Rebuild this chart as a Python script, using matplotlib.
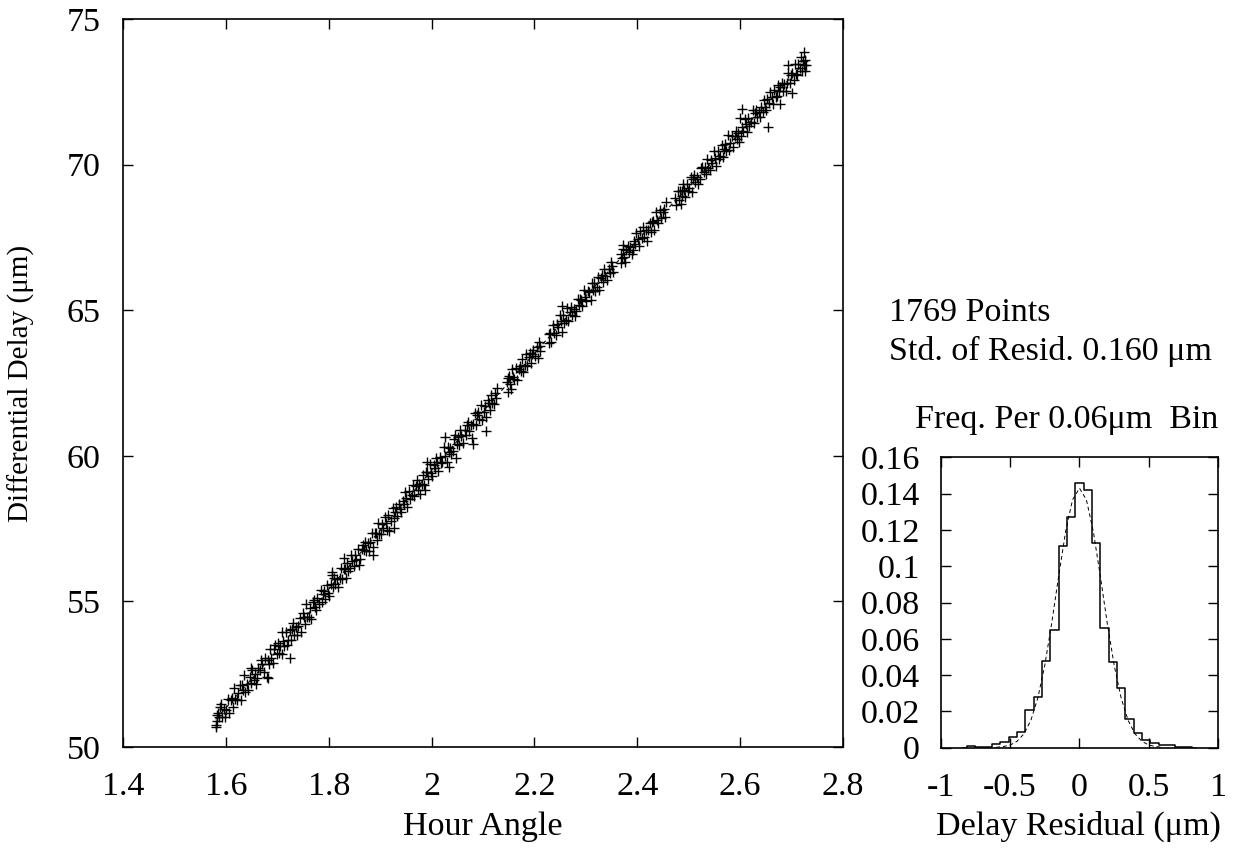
import matplotlib.pyplot as plt

hour_angle = [
    1.580, 1.581, 1.582, 1.583, 1.584, 1.586, 1.589,
    1.591, 1.593, 1.596, 1.598, 1.601, 1.604, 1.606, 1.609,
    1.611, 1.613, 1.616, 1.618, 1.621, 1.624, 1.627, 1.629,
    1.631, 1.634, 1.636, 1.638, 1.641, 1.643, 1.646, 1.649,
    1.651, 1.654, 1.656, 1.659, 1.661, 1.663, 1.666, 1.668,
    1.671, 1.674, 1.676, 1.679, 1.681, 1.683, 1.686, 1.688,
    1.691, 1.694, 1.696, 1.699, 1.701, 1.704, 1.706, 1.709,
    1.711, 1.713, 1.716, 1.718, 1.721, 1.724, 1.726, 1.729,
    1.731, 1.733, 1.736, 1.738, 1.741, 1.744, 1.746, 1.749,
    1.751, 1.753, 1.756, 1.758, 1.761, 1.764, 1.766, 1.769,
    1.771, 1.773, 1.776, 1.778, 1.781, 1.784, 1.786, 1.789,
    1.791, 1.793, 1.796, 1.798, 1.801, 1.804, 1.806, 1.809,
    1.811, 1.813, 1.816, 1.818, 1.821, 1.824, 1.826, 1.829,
    1.831, 1.833, 1.836, 1.838, 1.841, 1.844, 1.846, 1.849,
    1.851, 1.853, 1.856, 1.858, 1.861, 1.864, 1.866, 1.869,
    1.871, 1.873, 1.876, 1.878, 1.881, 1.884, 1.886, 1.889,
    1.891, 1.893, 1.896, 1.898, 1.901, 1.904, 1.906, 1.909,
    1.911, 1.913, 1.916, 1.918, 1.921, 1.924, 1.926, 1.929,
    1.931, 1.933, 1.936, 1.938, 1.941, 1.944, 1.946, 1.949,
    1.951, 1.953, 1.956, 1.958, 1.961, 1.964, 1.966, 1.969,
    1.971, 1.973, 1.976, 1.978, 1.981, 1.984, 1.986, 1.989,
    1.991, 1.993, 1.996, 1.998, 2.001, 2.004, 2.006, 2.009,
    2.011, 2.013, 2.016, 2.018, 2.021, 2.024, 2.026, 2.029,
    2.031, 2.033, 2.036, 2.038, 2.041, 2.044, 2.046, 2.049,
    2.051, 2.053, 2.056, 2.058, 2.061, 2.064, 2.066, 2.069,
    2.071, 2.073, 2.076, 2.078, 2.081, 2.084, 2.086, 2.089,
    2.091, 2.093, 2.096, 2.098, 2.101, 2.104, 2.106, 2.109,
    2.111, 2.113, 2.116, 2.118, 2.121, 2.123, 2.126, 2.128,
    2.146, 2.148, 2.149, 2.151, 2.153, 2.154, 2.156, 2.158,
    2.161, 2.164, 2.166, 2.169, 2.171, 2.173, 2.176, 2.178,
    2.181, 2.184, 2.186, 2.189, 2.191, 2.193, 2.196, 2.198,
    2.201, 2.204, 2.206, 2.209, 2.210, 2.211, 2.228, 2.229,
    2.231, 2.233, 2.236, 2.238, 2.241, 2.244, 2.246, 2.249,
    2.251, 2.253, 2.256, 2.258, 2.261, 2.264, 2.266, 2.269,
    2.271, 2.273, 2.276, 2.278, 2.281, 2.284, 2.286, 2.289,
    2.291, 2.293, 2.296, 2.298, 2.301, 2.304, 2.306, 2.309,
    2.311, 2.313, 2.316, 2.318, 2.321, 2.324, 2.326, 2.329,
    2.331, 2.333, 2.336, 2.338, 2.341, 2.344, 2.346, 2.349,
    2.351, 2.353, 2.368, 2.369, 2.371, 2.372, 2.373, 2.375,
    2.376, 2.378, 2.381, 2.384, 2.386, 2.389, 2.391, 2.393,
    2.396, 2.398, 2.401, 2.404, 2.406, 2.409, 2.411, 2.413,
    2.416, 2.418, 2.421, 2.424, 2.426, 2.429, 2.431, 2.433,
    2.436, 2.438, 2.441, 2.444, 2.446, 2.449, 2.451, 2.454,
    2.456, 2.473, 2.476, 2.479, 2.481, 2.483, 2.484, 2.486,
    2.487, 2.488, 2.491, 2.493, 2.496, 2.498, 2.501, 2.504,
    2.506, 2.509, 2.511, 2.513, 2.516, 2.518, 2.521, 2.524,
    2.526, 2.529, 2.531, 2.533, 2.536, 2.538, 2.541, 2.544,
    2.546, 2.549, 2.551, 2.553, 2.556, 2.558, 2.561, 2.564,
    2.566, 2.569, 2.571, 2.573, 2.576, 2.578, 2.581, 2.584,
    2.586, 2.589, 2.591, 2.593, 2.596, 2.598, 2.601, 2.604,
    2.606, 2.609, 2.611, 2.613, 2.616, 2.618, 2.621, 2.624,
    2.626, 2.629, 2.631, 2.633, 2.636, 2.638, 2.641, 2.644,
    2.646, 2.649, 2.651, 2.653, 2.656, 2.658, 2.661, 2.664,
    2.666, 2.669, 2.671, 2.673, 2.676, 2.678, 2.681, 2.684,
    2.686, 2.689, 2.691, 2.693, 2.696, 2.698, 2.701, 2.704,
    2.706, 2.709, 2.711, 2.713, 2.716, 2.718, 2.721, 2.723,
    2.724, 2.725, 2.726, 2.727, 2.728,
    2.603, 2.600, 2.655, 2.677, 2.701, 2.693, 2.253, 2.105,
    2.026, 2.048, 2.034, 1.992, 2.081, 1.724, 1.926, 1.887,
    1.987, 1.709, 1.681, 1.649, 1.829, 1.807,
]
delay = [
    50.70, 50.77, 51.09, 50.89, 51.18, 51.02, 51.38,
    51.47, 51.03, 51.32, 51.03, 51.27, 51.65, 51.17, 51.61,
    51.68, 51.38, 52.01, 51.65, 51.61, 51.87, 52.13, 51.60,
    52.14, 51.94, 52.46, 51.90, 52.18, 51.94, 52.41, 52.20,
    52.63, 52.31, 52.51, 52.16, 52.37, 52.71, 52.63, 52.99,
    52.85, 52.59, 53.05, 52.41, 53.00, 52.84, 53.37, 53.04,
    52.89, 53.35, 53.49, 53.20, 53.56, 53.22, 53.46, 53.21,
    53.65, 53.47, 53.94, 53.50, 53.68, 54.02, 53.67, 54.05,
    54.27, 53.86, 54.13, 53.84, 54.16, 54.42, 53.94, 54.60,
    54.47, 54.23, 54.92, 54.48, 54.45, 54.76, 54.41, 54.97,
    55.06, 54.80, 54.70, 55.11, 54.92, 55.38, 54.97, 55.24,
    55.35, 55.09, 55.56, 55.30, 55.19, 55.58, 55.89, 55.48,
    55.82, 55.58, 55.76, 55.48, 55.79, 56.15, 55.76, 56.10,
    56.10, 55.81, 56.33, 56.04, 56.13, 56.61, 56.37, 56.21,
    56.60, 56.41, 56.80, 56.24, 56.47, 56.81, 56.95, 56.76,
    57.05, 56.74, 57.00, 56.74, 57.04, 57.34, 56.86, 57.34,
    57.34, 57.10, 57.68, 57.30, 57.31, 57.67, 57.51, 57.90,
    57.69, 57.46, 57.95, 57.41, 57.77, 58.21, 57.85, 58.08,
    58.23, 57.92, 58.33, 58.17, 58.06, 58.46, 58.36, 58.75,
    58.54, 58.23, 58.79, 58.53, 58.65, 58.98, 58.62, 58.97,
    59.18, 58.84, 59.02, 58.69, 59.03, 59.35, 59.00, 59.45,
    59.43, 59.20, 59.71, 59.40, 59.32, 59.68, 59.57, 59.93,
    59.77, 59.48, 59.97, 59.76, 59.80, 60.30, 60.00, 59.78,
    60.31, 60.12, 60.28, 60.05, 60.18, 60.59, 60.73, 60.41,
    60.63, 60.37, 60.88, 60.67, 60.43, 60.87, 60.73, 61.07,
    61.15, 60.84, 61.05, 60.62, 61.09, 61.48, 61.06, 61.40,
    61.49, 61.28, 61.74, 61.23, 61.52, 61.72, 61.32, 61.90,
    61.82, 61.58, 62.09, 61.80, 61.79, 62.16, 61.99, 62.33,
    62.54, 62.20, 62.68, 62.74, 62.48, 62.30, 62.99, 62.70,
    62.62, 63.02, 62.59, 62.98, 63.09, 62.90, 63.32, 62.88,
    63.12, 63.50, 63.09, 63.40, 63.54, 63.20, 63.49, 63.63,
    63.44, 63.75, 63.36, 63.92, 63.77, 63.59, 64.17, 63.89,
    64.21, 63.92, 64.48, 64.22, 64.15, 64.54, 64.41, 64.84,
    64.62, 64.26, 64.82, 64.56, 64.67, 65.06, 64.62, 64.93,
    65.10, 64.84, 65.04, 64.81, 64.97, 65.40, 65.17, 65.40,
    65.36, 65.13, 65.71, 65.45, 65.31, 65.67, 65.63, 65.36,
    65.95, 65.69, 65.94, 65.65, 65.79, 66.15, 65.70, 66.12,
    66.20, 65.97, 66.40, 66.19, 66.05, 66.41, 66.27, 66.67,
    66.52, 66.31, 66.94, 66.63, 66.80, 67.25, 67.11, 66.81,
    66.64, 67.08, 67.22, 66.99, 67.18, 66.94, 67.08, 67.39,
    67.27, 67.64, 67.44, 67.19, 67.71, 67.49, 67.85, 67.52,
    67.74, 67.38, 67.74, 68.00, 67.68, 68.04, 68.05, 67.76,
    68.36, 68.08, 68.01, 68.43, 68.17, 68.36, 68.46, 68.19,
    68.73, 68.85, 68.62, 69.11, 68.79, 69.11, 68.64, 68.93,
    69.08, 69.34, 69.13, 68.90, 69.32, 69.09, 69.21, 69.56,
    69.05, 69.51, 69.63, 69.39, 69.56, 69.33, 69.51, 69.88,
    69.93, 69.73, 69.92, 69.66, 70.19, 69.87, 69.82, 70.17,
    70.07, 70.45, 70.24, 69.95, 70.46, 70.20, 70.30, 70.68,
    70.27, 70.55, 70.71, 70.48, 71.00, 70.50, 70.73, 70.98,
    70.59, 70.98, 71.15, 70.89, 71.07, 70.76, 70.97, 71.28,
    71.16, 71.55, 71.39, 71.13, 71.60, 71.34, 71.45, 71.86,
    71.42, 71.77, 71.88, 71.64, 71.82, 71.64, 71.99, 71.80,
    72.23, 71.99, 71.88, 72.24, 72.10, 72.49, 72.32, 72.08,
    72.55, 72.32, 72.34, 72.72, 72.54, 72.67, 72.81, 72.54,
    72.78, 72.51, 72.80, 73.14, 72.80, 73.08, 73.16, 72.90,
    73.44, 73.11, 73.08, 73.45, 73.31, 73.69, 73.23, 73.57,
    73.41, 73.86, 73.23, 73.60, 73.41,
    71.91, 71.59, 71.30, 72.08, 72.45, 73.42, 65.14, 60.85,
    60.66, 59.91, 59.61, 59.80, 60.39, 53.05, 57.51, 56.59,
    58.83, 53.96, 52.36, 52.70, 56.48, 56.02,
]

# fitted delay model (dashed line)
hour_fit = [1.58, 1.70, 1.80, 1.90, 2.00, 2.10, 2.20, 2.30, 2.40, 2.50, 2.60, 2.70, 2.73]
delay_fit = [50.95, 53.32, 55.42, 57.44, 59.50, 61.52, 63.52, 65.49, 67.40, 69.24, 71.10, 73.02, 73.60]

# residual histogram, frequency per 0.06 um bin
bin_center = [-0.84, -0.78, -0.72, -0.66, -0.60, -0.54, -0.48, -0.42, -0.36, -0.30,
              -0.24, -0.18, -0.12, -0.06, 0.00, 0.06, 0.12, 0.18, 0.24, 0.30,
              0.36, 0.42, 0.48, 0.54, 0.60, 0.66, 0.72, 0.78, 0.84]
freq = [0.0, 0.0011, 0.0005, 0.0005, 0.0018, 0.003, 0.006, 0.0086, 0.021, 0.028,
        0.0476, 0.065, 0.111, 0.127, 0.1457, 0.142, 0.1126, 0.066, 0.0474, 0.033,
        0.0158, 0.0079, 0.004, 0.0024, 0.0015, 0.0015, 0.0005, 0.0005, 0.0]

# gaussian curve (dashed)
gauss_x = [-0.60, -0.55, -0.50, -0.45, -0.40, -0.35, -0.30, -0.25, -0.20, -0.15, -0.10, -0.05, 0.00,
           0.05, 0.10, 0.15, 0.20, 0.25, 0.30, 0.35, 0.40, 0.45, 0.50, 0.55, 0.60]
gauss_y = [0.0002, 0.0006, 0.0014, 0.0035, 0.0076, 0.0151, 0.0274, 0.0454, 0.0686, 0.0946, 0.119, 0.1366, 0.143,
           0.1366, 0.119, 0.0946, 0.0686, 0.0454, 0.0274, 0.0151, 0.0076, 0.0035, 0.0014, 0.0006, 0.0002]

x_ticks = [1.4, 1.6, 1.8, 2.0, 2.2, 2.4, 2.6, 2.8]
x_ticklabels = ['1.4', '1.6', '1.8', '2', '2.2', '2.4', '2.6', '2.8']
y_ticks = [50, 55, 60, 65, 70, 75]
h_xticks = [-1, -0.5, 0, 0.5, 1]
h_xticklabels = ['-1', '-0.5', '0', '0.5', '1']
h_yticks = [0, 0.02, 0.04, 0.06, 0.08, 0.1, 0.12, 0.14, 0.16]
h_yticklabels = ['0', '0.02', '0.04', '0.06', '0.08', '0.1', '0.12', '0.14', '0.16']

plt.rcParams['font.family'] = ['Liberation Serif', 'DejaVu Serif']
plt.rcParams['font.size'] = 24.5

fig = plt.figure(figsize=(12.39, 8.59), dpi=100)

# main panel
ax = fig.add_axes([0.0993, 0.1304, 0.5811, 0.8475])
ax.plot(hour_angle, delay, '+', color='black', ms=7, mew=1.0)
ax.plot(hour_fit, delay_fit, color='black', lw=0.8, dashes=(4, 3))
ax.set_xlim(1.4, 2.8)
ax.set_ylim(50, 75)
ax.set_xticks(x_ticks)
ax.set_xticklabels(x_ticklabels)
ax.set_yticks(y_ticks)
ax.tick_params(direction='in', length=7, width=1, top=True, right=True)
ax.tick_params(axis='x', pad=18)
ax.tick_params(axis='y', pad=16)
ax.set_xlabel('Hour Angle', va='center')
ax.xaxis.set_label_coords(0.5, -0.11)
ax.set_ylabel('Differential Delay (μm)', va='center', fontsize=21)
ax.yaxis.set_label_coords(-0.141, 0.5)
for s in ax.spines.values():
    s.set_linewidth(1.2)

# histogram panel
hx = fig.add_axes([0.7592, 0.1296, 0.2241, 0.338])
hx.step(bin_center, freq, where='mid', color='black', lw=1.1)
hx.plot(gauss_x, gauss_y, color='black', lw=0.7, dashes=(4, 3))
hx.set_xlim(-1, 1)
hx.set_ylim(0, 0.16)
hx.set_xticks(h_xticks)
hx.set_xticklabels(h_xticklabels)
hx.set_yticks(h_yticks)
hx.set_yticklabels(h_yticklabels)
hx.tick_params(direction='in', length=7, width=1, top=True, right=True)
hx.tick_params(axis='x', pad=18)
hx.tick_params(axis='y', pad=15)
hx.set_xlabel('Delay Residual (μm)', va='center')
hx.xaxis.set_label_coords(0.498, -0.27)
for s in hx.spines.values():
    s.set_linewidth(1.2)

fig.text(0.7175, 0.6356, '1769 Points', va='center', ha='left')
fig.text(0.7175, 0.5914, 'Std. of Resid. 0.160 μm', va='center', ha='left')
fig.text(0.861, 0.511, 'Freq. Per 0.06μm  Bin', va='center', ha='center')

fig.savefig('out.png', dpi=100)
